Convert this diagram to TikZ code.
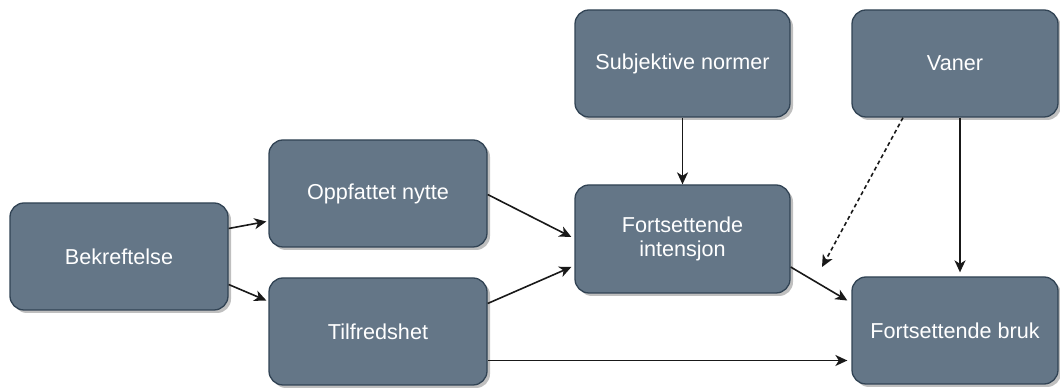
\documentclass[tikz,border=0pt]{standalone}
\usepackage{fontspec}
\setmainfont{Liberation Sans}
\usetikzlibrary{arrows.meta,shadows}
\definecolor{slatefill}{HTML}{647687}
\definecolor{slateline}{HTML}{314354}
\begin{document}
\begin{tikzpicture}[x=1pt,y=1pt,
  box/.style={rectangle, rounded corners=14pt, draw=slateline, line width=1.3pt,
    fill=slatefill, text=white, align=center,
    font=\fontsize{21.6}{24}\selectfont,
    minimum width=216pt, minimum height=107pt, inner sep=0pt,
    drop shadow={shadow xshift=3pt, shadow yshift=-3pt, opacity=0.25, fill=black}},
  link/.style={draw=black!90, line width=1.6pt,
    -{Stealth[length=12pt,width=11pt,inset=3.5pt]}},
  dashlink/.style={link, dash pattern=on 4pt off 3pt}]
\useasboundingbox (0,0) rectangle (1060,390);

% boxes
\node[box, minimum width=218pt] (ben) at (119,133.5) {Bekreftelse};
\node[box, minimum width=218pt] (opp) at (378,196.5) {Oppfattet nytte};
\node[box, minimum width=218pt] (til) at (378,58.5) {Tilfredshet};
\node[box, minimum width=215pt] (sub) at (682.5,326.5) {Subjektive normer};
\node[box, minimum width=215pt, minimum height=108pt] (int) at (682.5,151) {Fortsettende\\intensjon};
\node[box, minimum width=206pt] (van) at (955,326.5) {Vaner};
\node[box, minimum width=206pt] (bruk) at (955,59.5) {Fortsettende bruk};

% connectors
\draw[link] ([yshift=28pt]ben.east) -- ([yshift=-28pt,xshift=-2pt]opp.west);
\draw[link] ([yshift=-28pt]ben.east) -- ([yshift=31pt,xshift=-2pt]til.west);
\draw[link] ([yshift=-1pt]opp.east) -- ([yshift=2pt,xshift=-3pt]int.west);
\draw[link] ([yshift=28pt]til.east) -- ([yshift=-28pt,xshift=-3pt]int.west);
\draw[link] ([yshift=-29pt]til.east) -- ([yshift=-29pt,xshift=-4pt]til.east -| bruk.west);
\draw[link] (sub.south) -- (int.north);
\draw[link] ([xshift=5pt]van.south) -- ([xshift=5pt,yshift=4pt]bruk.north);
\coordinate (dashend) at (822,123);
\draw[dashlink] ([xshift=-52pt]van.south) -- (dashend);
\draw[link] ([yshift=-28pt]int.east) -- ([yshift=30pt,xshift=-4pt]bruk.west);
\end{tikzpicture}
\end{document}
